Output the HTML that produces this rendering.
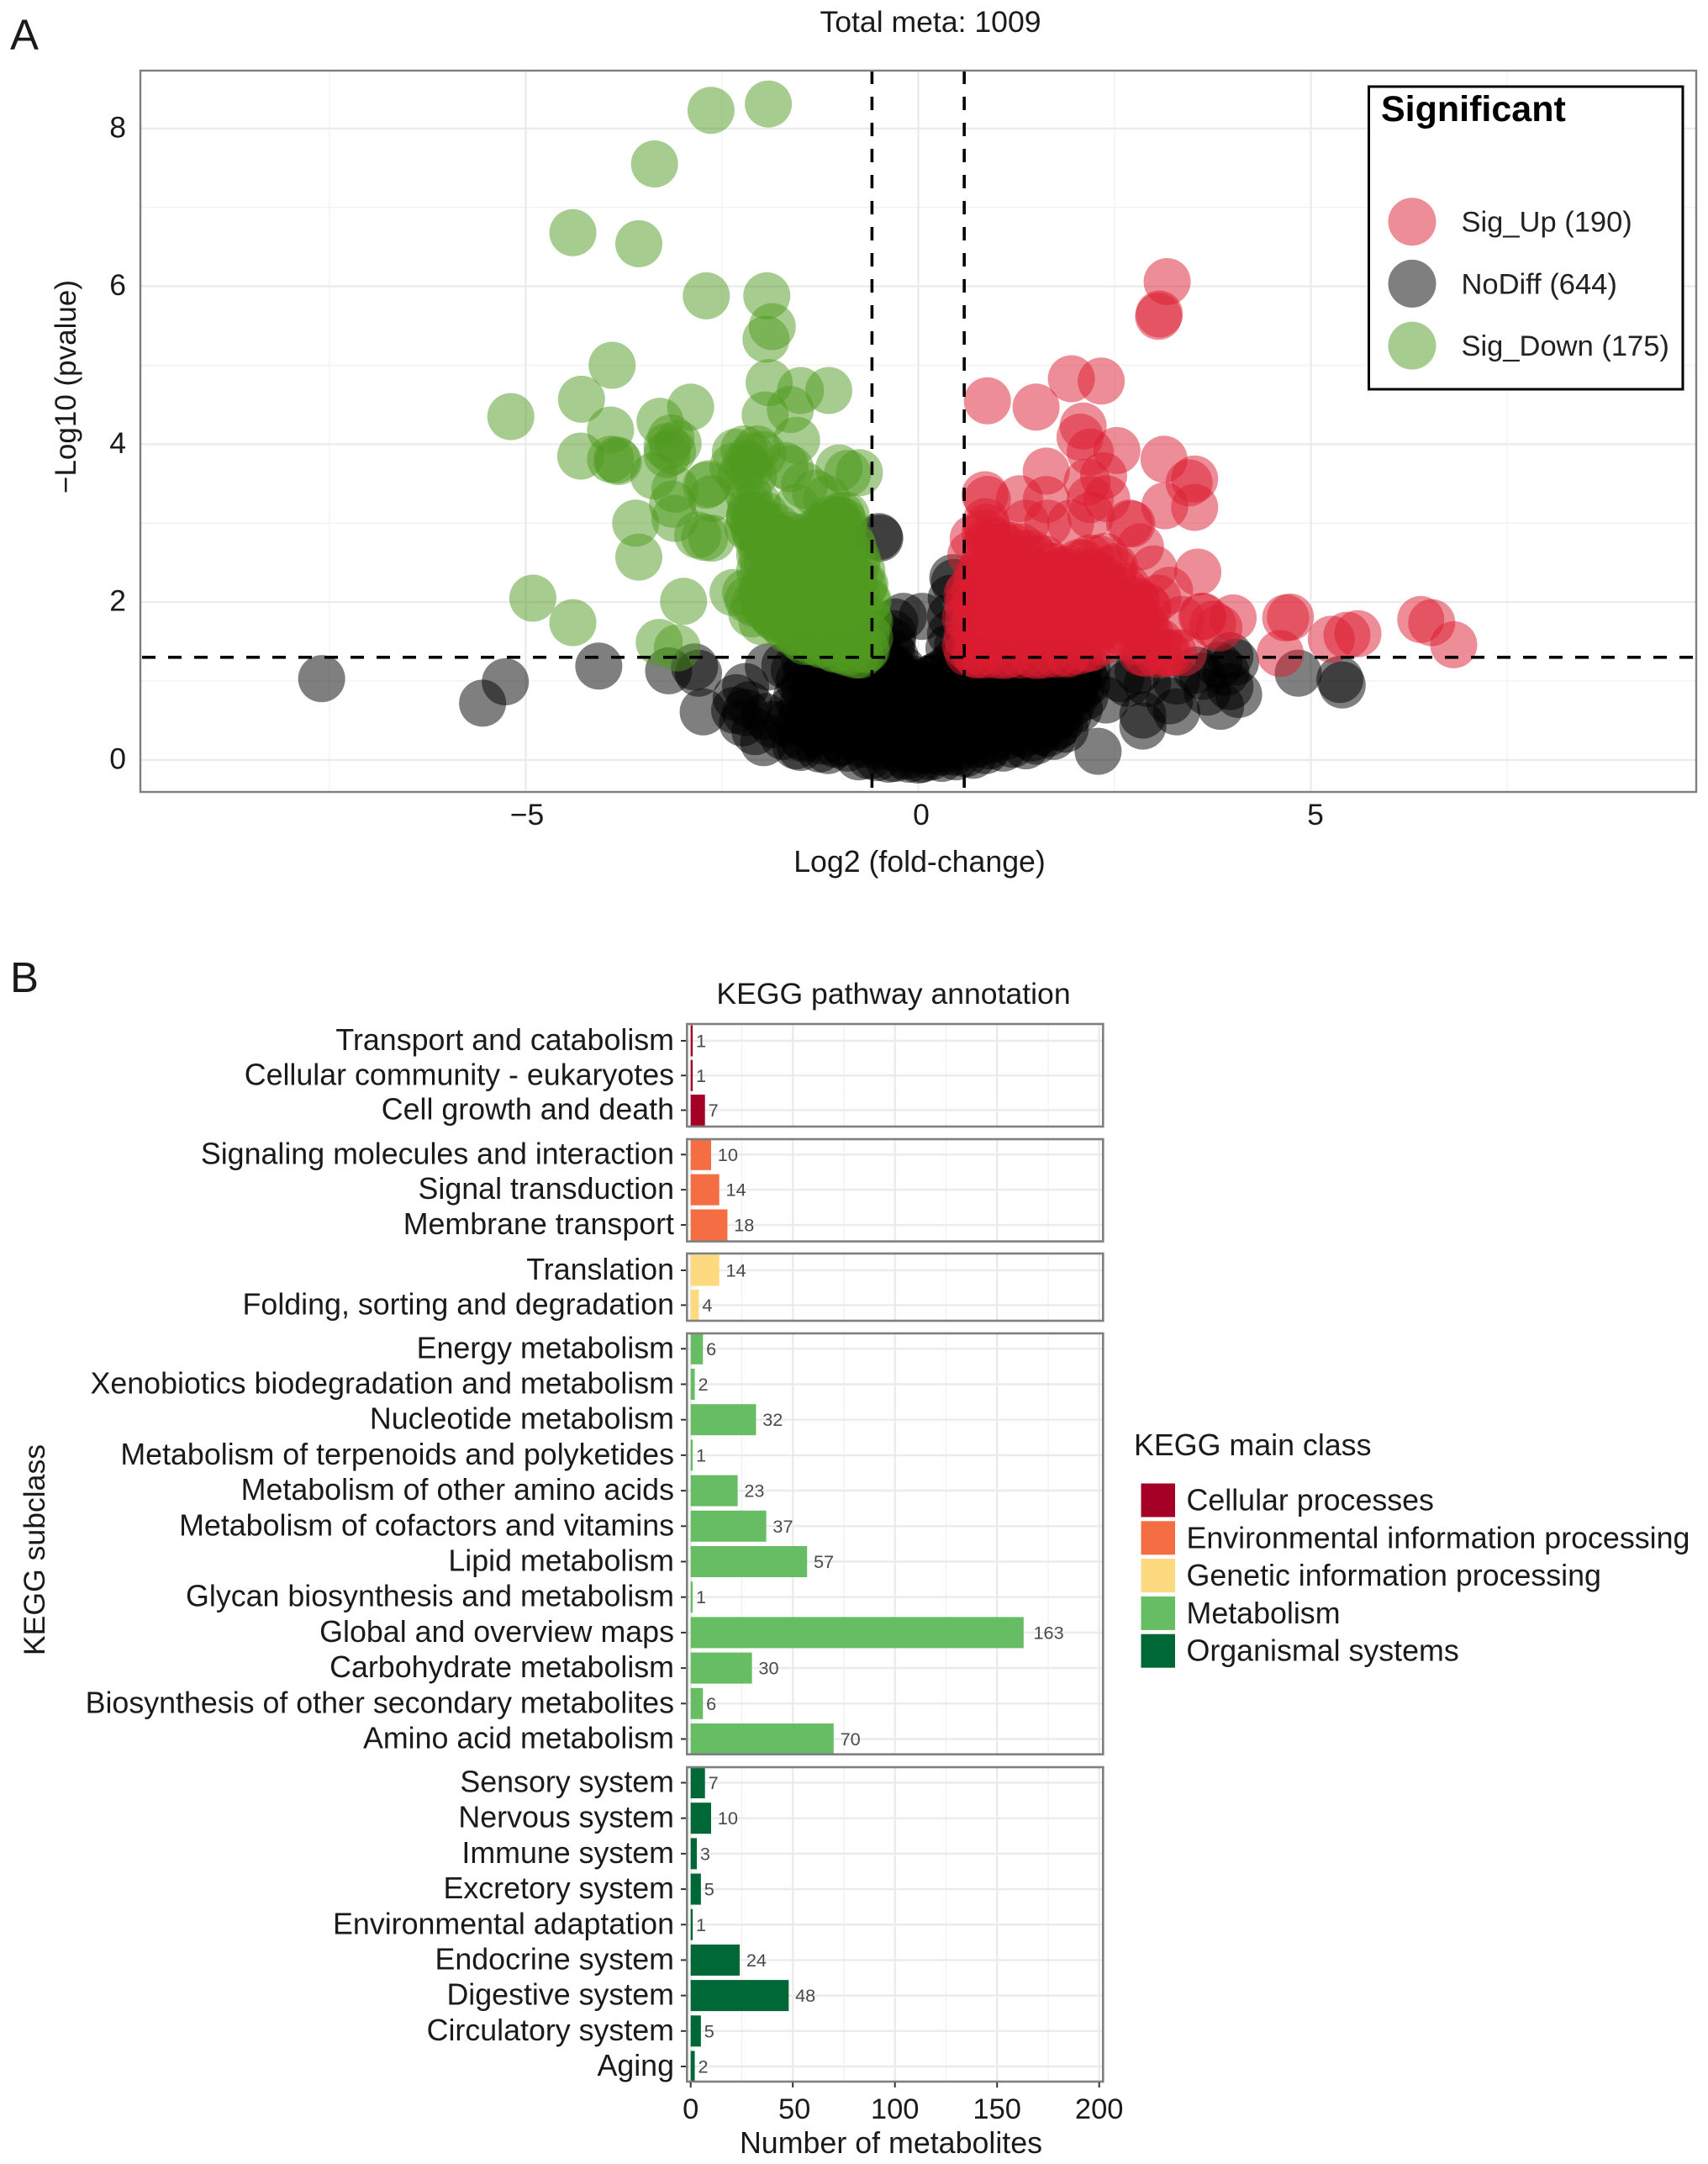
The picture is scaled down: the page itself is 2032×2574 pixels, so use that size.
<!DOCTYPE html>
<html lang="en">
<head>
<meta charset="utf-8">
<title>Volcano plot and KEGG pathway annotation</title>
<style>
html,body{margin:0;padding:0;background:#fff;}
#figure{position:absolute;left:0;top:0;display:block;font-family:"Liberation Sans",Arial,sans-serif;fill:#1a1a1a;}
</style>
</head>
<body>
<svg id="figure" xmlns="http://www.w3.org/2000/svg" width="2032" height="2574" viewBox="0 0 2032 2574">
  <rect x="0" y="0" width="2032" height="2574" fill="#fff"/>
  <text x="12" y="59" font-size="51">A</text>
  <text x="12" y="1180" font-size="51">B</text>
  <text x="1107" y="38" font-size="35.6" text-anchor="middle">Total meta: 1009</text>
  <text x="1094" y="1037" font-size="35.7" text-anchor="middle">Log2 (fold-change)</text>
  <text transform="translate(90,460) rotate(-90)" font-size="35" text-anchor="middle">−Log10 (pvalue)</text>
  <g id="volcano"></g>
  <text x="1063" y="1194" font-size="35.6" text-anchor="middle">KEGG pathway annotation</text>
  <text transform="translate(53,1843.5) rotate(-90)" font-size="35.6" text-anchor="middle">KEGG subclass</text>
  <text x="1060" y="2561" font-size="35.8" text-anchor="middle">Number of metabolites</text>
  <g id="kegg"></g>
  <g id="kegg-legend">
    <text x="1349" y="1731" font-size="35.8">KEGG main class</text>
  </g>
</svg>
<script>
// ---------- Volcano data: [log2 fold-change, -log10 p] ----------
const noDiffPoints = [
[-7.6,1.03],[-5.26,.99],[-5.55,.72],[-4.07,1.19],[-3.18,1.13],[-2.8,1.1],[-2.74,.61],[-2.85,1.18],
[-2.2,.93],[-2.32,.79],[-2.34,.63],[-2.24,.47],[-2.08,.36],[-1.97,.22],[-2.15,.7],[-1.91,1.18],[-1.58,1.14],[-2.2,.6],[-1.95,.55],[-1.85,.45],
[-1.56,.18],[-1.72,.3],[-1.66,.47],[-1.62,.64],[-1.55,.8],[-1.52,1],
[-1.5,.16],[-1.46,.27],[-1.42,.44],[-1.38,.6],[-1.36,.8],[-1.32,.98],[-1.3,1.16],[-1.26,.14],[-1.22,.24],[-1.2,.41],[-1.16,.58],[-1.14,.76],[-1.1,.94],[-1.08,1.13],[-1.05,1.28],
[-1.15,.12],[-.97,.22],[-.94,.38],[-.9,.55],[-.88,.73],[-.84,.92],[-.82,1.1],[-.78,1.26],[-.76,.04],[-.72,.2],[-.7,.36],[-.66,.53],[-.64,.7],[-.6,.88],[-.58,1.05],[-.56,1.22],
[-.52,.03],[-.5,.17],[-.47,.33],[-.44,.5],[-.42,.68],[-.4,.85],[-.38,1.02],[-.36,1.2],[-.34,1.38],[-.33,1.5],[-.32,1.6],[-.3,1.75],[-.38,.01],[-.28,.15],[-.26,.3],[-.23,.46],[-.21,.64],[-.19,.82],[-.17,1],[-.2,1.15],[-.3,1.32],[-.19,1.82],
[-.12,.01],[-.1,.14],[-.08,.28],[-.06,.45],[-.04,.62],[-.02,.8],[0,.98],[.05,.01],[.04,.13],[.06,.3],[.08,.47],[.1,.64],[.12,.82],[.14,1],[.16,.04],[.18,.2],[.2,.37],[.22,.55],[.24,.73],[.22,.92],[.25,1.08],[.05,1.82],
[.3,.02],[.33,.15],[.36,.32],[.38,.5],[.4,.68],[.42,.86],[.44,1.05],[.46,1.25],[.36,1.15],[.39,1.42],[.41,1.6],[.41,1.82],[.46,2.25],[.44,2.31],[.42,2.05],[.5,1.45],
[.48,.04],[.53,.18],[.56,.35],[.58,.53],[.6,.72],[.62,.9],[.65,1.1],[.68,1.26],[.7,.06],[.74,.2],[.76,.38],[.78,.56],[.8,.75],[.83,.94],[.86,1.12],[.88,1.27],
[.86,.12],[.92,.25],[.95,.42],[.98,.6],[1,.78],[1.03,.97],[1.06,1.15],[1.08,.15],[1.12,.3],[1.15,.47],[1.18,.65],[1.2,.84],[1.23,1.02],[1.26,1.2],
[1.37,.18],[1.33,.33],[1.36,.5],[1.38,.68],[1.42,.87],[1.45,1.05],[1.47,1.22],[1.5,.24],[1.54,.36],[1.57,.53],[1.6,.72],[1.62,.9],[1.65,1.08],[1.68,1.24],
[1.72,.3],[1.76,.42],[1.8,.58],[1.82,.76],[1.85,.94],[1.88,1.12],[1.87,.39],[1.91,.57],[1.96,.72],[2,.88],[2.03,1.05],[2.06,1.2],[2.12,.8],[2.15,.98],[2.15,1.15],[2.29,.11],
[2.39,.76],[2.58,1.03],[2.67,.97],[2.8,1.13],[2.86,.43],[2.86,.57],[2.92,.97],[3.2,.75],[3.29,.61],[3.29,1],[3.54,1.14],[3.62,1.06],[3.68,.86],[3.85,.68],[3.83,1.2],[3.92,1.11],[3.97,1.32],[3.97,.93],[4.04,1.24],[4.08,.83],[4.84,1.1],[5.37,1.02],[5.4,.95],
[-.49,2.81],[-.5,2.83],[-.62,1.25],[-.55,1.45],[-.48,1.6],[-1.7,1.2],[-1.45,1.28],
// additional points along the dense core
[-1.48,.3],[-1.5,.5],[-1.47,.7],[-1.45,.9],[-1.42,1.1],[-1.25,.35],[-1.28,.55],[-1.25,.75],[-1.22,1],[-1.05,.2],[-1.02,.45],[-1.04,.65],[-1,.85],[-.98,1.05],[-.95,1.25],
[-.9,.15],[-.8,.28],[-.78,.48],[-.76,.65],[-.72,.85],[-.7,1.05],[-.68,1.2],[-.62,.05],[-.58,.25],[-.55,.45],[-.53,.62],[-.5,.8],[-.48,1],[-.45,1.25],
[-.3,.02],[-.34,.22],[-.32,.42],[-.3,.58],[-.28,.75],[-.27,.95],[-.28,1.12],[-.15,.05],[-.15,.22],[-.13,.38],[-.12,.55],[-.1,.72],[-.08,.9],[-.05,1.02],
[0,.0],[.0,.2],[.02,.38],[.03,.55],[.05,.72],[.06,.9],[.15,.12],[.15,.3],[.16,.46],[.17,.65],[.18,.82],[.19,1.05],
[.3,.1],[.3,.25],[.3,.42],[.31,.6],[.33,.78],[.34,.95],[.45,.1],[.45,.26],[.47,.42],[.48,.6],[.5,.8],[.52,1],[.55,1.2],
[.6,.08],[.65,.25],[.67,.45],[.7,.62],[.72,.82],[.75,1],[.78,1.18],[.9,.18],[.88,.33],[.9,.5],[.92,.68],[.94,.86],[.96,1.05],[1,1.25],
[1.2,.2],[1.22,.38],[1.27,.58],[1.3,.76],[1.33,.95],[1.35,1.13],[1.37,1.28],[1.45,.28],[1.47,.44],[1.5,.62],[1.52,.8],[1.55,.98],[1.57,1.16],[1.6,1.28],
[1.65,.34],[1.7,.5],[1.72,.66],[1.73,.85],[1.76,1.02],[1.78,1.2],[1.8,.45],[1.93,.8],[1.95,1],[1.98,1.18],[2.05,.65],[2.07,.9],[2.1,1.1]
];
const upPoints = [
[3.17,6.06],[3.07,5.65],[3.06,5.62],[1.95,4.83],[2.33,4.8],[.88,4.55],[1.5,4.47],[2.1,4.23],[2.06,4.09],[2.19,3.9],[2.53,3.92],[1.63,3.66],[2.36,3.6],[3.13,3.81],[3.52,3.56],[3.45,3.51],[3.14,3.22],[3.52,3.2],
[.85,3.36],[.88,3.3],[1.63,3.3],[1.29,3.31],[2.4,3.31],[2.19,3.3],[2.15,3.52],[2.69,3],[2.83,2.7],[3.56,2.38],[3,2.42],[3.63,1.82],[4.01,1.8],[3.83,1.67],[3.35,1.78],[4.74,1.81],[4.61,1.35],[4.68,1.8],[5.26,1.53],[5.46,1.58],[5.6,1.6],[6.4,1.78],[6.54,1.74],[6.82,1.46],
[.86,3.02],[.7,2.81],[.67,2.6],[1.37,3],[1.65,3],[1.94,3],[2.2,3.1],[2.72,2.99],[3.61,1.82],[3.75,1.72],[3.2,2.15],[3.05,2.05],
[.63,1.36],[.62,1.56],[.64,1.78],[.63,1.98],[.65,2.15],
[.72,1.34],[.74,1.55],[.71,1.75],[.73,1.95],[.72,2.15],[.75,2.32],
[.85,1.33],[.87,1.52],[.84,1.72],[.86,1.92],[.85,2.12],[.87,2.32],[.84,2.52],[.86,2.7],[.85,2.88],
[1,1.33],[1.02,1.53],[.99,1.73],[1.01,1.93],[1,2.13],[1.03,2.33],[.99,2.55],[1.01,2.78],
[1.15,1.34],[1.17,1.54],[1.14,1.74],[1.16,1.94],[1.15,2.14],[1.17,2.34],[1.14,2.54],[1.16,2.72],
[1.3,1.33],[1.32,1.53],[1.29,1.73],[1.31,1.93],[1.3,2.13],[1.32,2.33],[1.29,2.53],[1.31,2.7],
[1.45,1.34],[1.47,1.54],[1.44,1.74],[1.46,1.94],[1.45,2.14],[1.47,2.34],[1.44,2.62],
[1.6,1.33],[1.62,1.53],[1.59,1.73],[1.61,1.93],[1.6,2.13],[1.62,2.33],[1.6,2.55],
[1.75,1.34],[1.77,1.54],[1.74,1.74],[1.76,1.94],[1.75,2.14],[1.77,2.3],[1.74,2.45],
[1.9,1.36],[1.92,1.56],[1.89,1.76],[1.91,1.96],[1.9,2.16],[1.92,2.42],
[2.05,1.38],[2.07,1.58],[2.04,1.78],[2.06,1.98],[2.05,2.18],[2.07,2.34],[2.04,2.5],
[2.2,1.42],[2.22,1.6],[2.19,1.8],[2.21,2],[2.2,2.2],[2.22,2.38],[2.19,2.56],
[2.35,1.5],[2.37,1.7],[2.34,1.9],[2.36,2.1],[2.35,2.3],[2.38,2.58],
[2.5,1.58],[2.52,1.78],[2.49,1.98],[2.51,2.18],[2.5,2.45],
[2.62,1.6],[2.64,1.8],[2.61,2],[2.63,2.15],
[2.76,1.5],[2.78,1.7],[2.75,1.88],[2.77,2.03],
[2.9,1.35],[2.92,1.52],[2.89,1.7],[2.91,1.95],
[3.05,1.34],[3.07,1.5],[3.18,1.35],[3.25,1.36],[3.38,1.36],
// additional points along the dense edge
[.87,2.95],[.9,2.8],[1.1,2.7],[1.3,2.62],[1.5,2.55],[1.7,2.45],[1.85,2.4],[2.1,2.5],[2.3,2.55],[2.48,2.42],[2.65,2.2],[2.78,2],[2.93,1.92],[2.95,1.6],[3.15,1.36],[2.85,1.36],[2.15,1.41],[1.9,1.34],[1.5,1.32],[1.1,1.32],[.75,1.33],[.6,1.45],[.6,1.8],[.62,2.1],[.8,2.4]
];
const downPoints = [
[-1.91,8.31],[-2.64,8.23],[-3.36,7.55],[-4.4,6.68],[-3.56,6.54],[-2.7,5.88],[-1.93,5.88],[-1.86,5.49],[-1.94,5.33],[-3.9,5],[-4.29,4.57],[-5.19,4.35],[-1.9,4.78],[-1.5,4.68],[-1.14,4.68],[-2.9,4.47],[-3.29,4.29],[-3.92,4.18],[-1.95,4.37],[-1.63,4.44],
[-4.3,3.85],[-3.92,3.81],[-3.82,3.78],[-3.84,3.8],[-3.37,3.6],[-3.06,4.01],[-3.2,3.97],[-3.15,4.08],[-3.13,3.91],[-3.2,3.87],[-1.55,4.05],[-1.7,3.73],[-1.63,3.69],[-2.33,3.9],[-2.22,3.94],[-2.05,3.94],[-1.98,3.87],[-2.19,3.76],[-2.36,3.72],[-2.26,3.6],[-2.12,3.85],[-2.15,3.7],[-2.1,3.6],[-2.67,3.5],
[-3.6,3],[-3.56,2.57],[-3.1,3.43],[-3.13,3.24],[-3.1,3.06],[-2.81,2.85],[-2.63,2.81],[-2.72,2.82],[-2.7,3.48],[-2.63,3.31],[-4.91,2.05],[-4.4,1.74],[-2.99,2.01],[-3.3,1.49],[-3.07,1.42],[-2.36,2.12],[-2.17,2.03],[-2.2,2.12],[-2.12,1.85],
[-1.31,3.38],[-1.45,3.48],[-1.01,3.7],[-.75,3.64],[-.9,3.63],[-1.17,3.31],[-1.55,3.2],
[-2.17,2.95],[-2.15,3.1],[-2.13,3.2],[-2.16,3.35],[-2.02,2.4],[-1.99,2.6],[-2.01,2.8],[-1.98,3],
[-1.85,2.05],[-1.87,2.25],[-1.83,2.45],[-1.86,2.65],[-1.84,2.85],
[-1.7,1.85],[-1.72,2.05],[-1.68,2.25],[-1.71,2.45],[-1.69,2.65],[-1.72,2.8],
[-1.55,1.7],[-1.57,1.9],[-1.53,2.1],[-1.56,2.3],[-1.54,2.5],[-1.57,2.7],
[-1.4,1.6],[-1.42,1.8],[-1.38,2],[-1.41,2.2],[-1.39,2.4],[-1.42,2.6],[-1.4,2.75],
[-1.25,1.48],[-1.27,1.65],[-1.23,1.85],[-1.26,2.05],[-1.24,2.25],[-1.27,2.45],[-1.23,2.65],[-1.26,2.78],
[-1.1,1.42],[-1.12,1.6],[-1.08,1.8],[-1.11,2],[-1.09,2.2],[-1.12,2.4],[-1.08,2.6],[-1.11,2.8],[-1.09,2.95],
[-.95,1.38],[-.97,1.55],[-.93,1.75],[-.96,1.95],[-.94,2.15],[-.97,2.35],[-.93,2.55],[-.96,2.75],[-1.02,3.05],
[-.8,1.33],[-.82,1.5],[-.78,1.7],[-.81,1.9],[-.79,2.1],[-.82,2.3],[-.78,2.5],[-.83,2.7],
[-.68,1.4],[-.66,1.6],[-.64,1.8],[-.65,2],[-.7,2.2],
// additional points along the dense edge
[-2.15,3.08],[-2.1,2.95],[-2.05,2.8],[-2.02,2.6],[-1.97,2.4],[-1.93,2.17],[-1.86,2],[-1.78,1.9],[-1.65,1.75],[-1.5,1.6],[-1.35,1.5],[-1.24,1.46],[-1.05,1.4],[-.9,1.36],[-.74,1.33],[-.66,1.4],[-.62,1.55],[-.62,1.75],[-.64,2.02],[-.68,2.22],[-.72,2.4],[-.78,2.56],[-.85,2.75],[-.95,2.95],[-1.03,3.04],[-1.1,3],[-1.2,2.88],[-1.35,2.82],[-1.5,2.82],[-1.65,2.85],[-1.8,2.95],[-1.95,3.1],[-2.05,3.25],
[-2.06,3.1],[-2.08,2.9],[-2.1,3.05],[-1.92,2.5],[-1.9,2.3],[-1.78,2.15],[-1.8,2.35],[-1.78,2.6],[-1.62,1.95],[-1.62,2.2],[-1.48,1.75],[-1.33,1.7],[-1.18,1.55],[-1.03,1.5],
// lower-left shoulder and upper-right lump of the dense core
[-1.99,2.1],[-2,2.14],[-1.96,1.98],[-1.94,1.92],[-1.85,1.82],[-1.88,1.86],[-1.8,1.78],[-1.72,1.72],[-1.68,1.66],[-1.58,1.62],[-1.52,1.56],[-1.44,1.5],[-1.38,1.78],[-1.99,1.75],[-2.08,1.98],
[-1.05,2.98],[-.98,3.1],[-.95,3.02],[-.92,3.1],[-1.12,3.05],[-1.2,2.98],[-1.3,2.9]
];
const volcanoXTicks = [-5, 0, 5];
const volcanoXMinor = [-7.5, -2.5, 2.5, 7.5];
const volcanoYTicks = [0, 2, 4, 6, 8];
const volcanoYMinor = [1, 3, 5, 7];
const pThreshold = 1.301;
const fcThresholds = [-0.59, 0.585];
const legendLabels = ['Sig_Up (190)', 'NoDiff (644)', 'Sig_Down (175)'];
const groupColors = ['#dc1c30', '#000000', '#4f9a1f'];

// ---------- KEGG data ----------
const cellularCategories = ['Transport and catabolism','Cellular community - eukaryotes','Cell growth and death'];
const cellularValues = [1,1,7];
const environmentalCategories = ['Signaling molecules and interaction','Signal transduction','Membrane transport'];
const environmentalValues = [10,14,18];
const geneticCategories = ['Translation','Folding, sorting and degradation'];
const geneticValues = [14,4];
const metabolismCategories = ['Energy metabolism','Xenobiotics biodegradation and metabolism','Nucleotide metabolism','Metabolism of terpenoids and polyketides','Metabolism of other amino acids','Metabolism of cofactors and vitamins','Lipid metabolism','Glycan biosynthesis and metabolism','Global and overview maps','Carbohydrate metabolism','Biosynthesis of other secondary metabolites','Amino acid metabolism'];
const metabolismValues = [6,2,32,1,23,37,57,1,163,30,6,70];
const organismalCategories = ['Sensory system','Nervous system','Immune system','Excretory system','Environmental adaptation','Endocrine system','Digestive system','Circulatory system','Aging'];
const organismalValues = [7,10,3,5,1,24,48,5,2];
const mainClasses = ['Cellular processes','Environmental information processing','Genetic information processing','Metabolism','Organismal systems'];
const mainClassColors = ['#a50026','#f46d43','#fdd97f','#66bd63','#006837'];
const keggXTicks = [0,50,100,150,200];
const keggXMinor = [25,75,125,175];

// ---------- helpers ----------
const SVGNS = 'http://www.w3.org/2000/svg';
function make(parent, tag, attrs, text) {
  const node = document.createElementNS(SVGNS, tag);
  for (const k in attrs) node.setAttribute(k, attrs[k]);
  if (text !== undefined) node.textContent = text;
  parent.appendChild(node);
  return node;
}
function tagged(node, name) {
  
  
  return node;
}

// ---------- Volcano ----------
const vol = document.getElementById('volcano');
const volBox = {left:167, right:2018, top:84, bottom:942};
const vx = v => 1092.5 + 93.4 * v;
const vy = v => 904 - 93.9 * v;

volcanoYMinor.forEach(t => {
  tagged(make(vol,'line',{x1:volBox.left,x2:volBox.right,y1:vy(t),y2:vy(t),stroke:'#f2f2f2','stroke-width':1.4}),'y-minor-gridline');
});
volcanoXMinor.forEach(t => {
  tagged(make(vol,'line',{y1:volBox.top,y2:volBox.bottom,x1:vx(t),x2:vx(t),stroke:'#f2f2f2','stroke-width':1.4}),'x-minor-gridline');
});
volcanoYTicks.forEach(t => {
  tagged(make(vol,'line',{x1:volBox.left,x2:volBox.right,y1:vy(t),y2:vy(t),stroke:'#ebebeb','stroke-width':2.4}),'y-major-gridline');
  tagged(make(vol,'text',{x:150,y:vy(t)+10.5,'font-size':35.5,'text-anchor':'end'},String(t)),'y-tick-label');
});
volcanoXTicks.forEach(t => {
  tagged(make(vol,'line',{y1:volBox.top,y2:volBox.bottom,x1:vx(t),x2:vx(t),stroke:'#ebebeb','stroke-width':2.4}),'x-major-gridline');
  tagged(make(vol,'text',{x:1096+93.8*t,y:981,'font-size':35.5,'text-anchor':'middle'},String(t).replace('-','−')),'x-tick-label');
});

function drawPoints(points, color, name) {
  points.forEach(p => {
    const c = make(vol,'circle',{cx:vx(p[0]),cy:vy(p[1]),r:28,fill:color,'fill-opacity':0.5});
    
    
  });
}
drawPoints(noDiffPoints, groupColors[1], 'nodiff-point');
drawPoints(upPoints, groupColors[0], 'sig-up-point');
drawPoints(downPoints, groupColors[2], 'sig-down-point');

tagged(make(vol,'line',{x1:volBox.left+2,x2:volBox.right,y1:vy(pThreshold),y2:vy(pThreshold),stroke:'#000','stroke-width':3.6,'stroke-dasharray':'16 15'}),'p-threshold-line');
fcThresholds.forEach(t => {
  tagged(make(vol,'line',{x1:vx(t),x2:vx(t),y1:volBox.top,y2:volBox.bottom,stroke:'#000','stroke-width':3.6,'stroke-dasharray':'16 15'}),'fold-change-threshold-line');
});
tagged(make(vol,'rect',{x:volBox.left,y:volBox.top,width:volBox.right-volBox.left,height:volBox.bottom-volBox.top,fill:'none',stroke:'#7f7f7f','stroke-width':2.4}),'volcano-panel-border');

const volLegend = tagged(make(vol,'g',{}),'significance-legend');
tagged(make(volLegend,'rect',{x:1628.5,y:103,width:373.5,height:360,fill:'#fff',stroke:'#000','stroke-width':3}),'legend-box');
tagged(make(volLegend,'text',{x:1643,y:144,'font-size':43,'font-weight':'bold',fill:'#000'},'Significant'),'legend-title');
legendLabels.forEach((label,i) => {
  const cy = 263.7 + i * 73.7;
  tagged(make(volLegend,'circle',{cx:1680,cy:cy,r:28.5,fill:groupColors[i],'fill-opacity':0.5}),'legend-key');
  tagged(make(volLegend,'text',{x:1738.5,y:cy+12,'font-size':34.5,fill:'#222'},label),'legend-entry');
});

// ---------- KEGG bars ----------
const kegg = document.getElementById('kegg');
const kx = v => 821.7 + 2.43 * v;
const keggLeft = 817.3, keggRight = 1312.3, barHeight = 37;
const facets = [
  {cats:cellularCategories, vals:cellularValues, color:mainClassColors[0], top:1218, bottom:1340, first:1238, last:1320.5},
  {cats:environmentalCategories, vals:environmentalValues, color:mainClassColors[1], top:1355, bottom:1476.6, first:1373.3, last:1457},
  {cats:geneticCategories, vals:geneticValues, color:mainClassColors[2], top:1491, bottom:1571, first:1511, last:1552.4},
  {cats:metabolismCategories, vals:metabolismValues, color:mainClassColors[3], top:1586, bottom:2086.7, first:1604.3, last:2068.5},
  {cats:organismalCategories, vals:organismalValues, color:mainClassColors[4], top:2102, bottom:2476, first:2120.5, last:2458}
];

facets.forEach(f => {
  const step = (f.last - f.first) / (f.cats.length - 1);
  const cy = i => f.first + i * step;
  keggXMinor.forEach(t => {
    tagged(make(kegg,'line',{x1:kx(t),x2:kx(t),y1:f.top,y2:f.bottom,stroke:'#f2f2f2','stroke-width':1.4}),'x-minor-gridline');
  });
  keggXTicks.forEach(t => {
    tagged(make(kegg,'line',{x1:kx(t),x2:kx(t),y1:f.top,y2:f.bottom,stroke:'#ebebeb','stroke-width':2.4}),'x-major-gridline');
  });
  f.cats.forEach((cat,i) => {
    const y = cy(i), val = f.vals[i];
    tagged(make(kegg,'line',{x1:keggLeft,x2:keggRight,y1:y,y2:y,stroke:'#ebebeb','stroke-width':2.4}),'y-gridline');
    tagged(make(kegg,'line',{x1:810,x2:816,y1:y,y2:y,stroke:'#333','stroke-width':2}),'y-tick');
    tagged(make(kegg,'text',{x:802,y:y+11,'font-size':35.8,'text-anchor':'end',fill:'#1a1a1a'},cat),'subclass-label');
    const bar = make(kegg,'rect',{x:kx(0),y:y-barHeight/2,width:kx(val)-kx(0),height:barHeight,fill:f.color});
    
    
    const txt = String(val);
    tagged(make(kegg,'text',{x:kx(val)+txt.length*3.9,y:y+7.5,'font-size':21.7,fill:'#4a4a4a'},txt),'bar-value-label');
  });
  tagged(make(kegg,'rect',{x:keggLeft,y:f.top,width:keggRight-keggLeft,height:f.bottom-f.top,fill:'none',stroke:'#7f7f7f','stroke-width':2.6}),'facet-panel-border');
});
keggXTicks.forEach(t => {
  tagged(make(kegg,'line',{x1:kx(t),x2:kx(t),y1:2477,y2:2483,stroke:'#333','stroke-width':2}),'x-tick');
  tagged(make(kegg,'text',{x:kx(t)+(t===50?2:0),y:2520,'font-size':34.5,'text-anchor':'middle',fill:'#1a1a1a'},String(t)),'x-tick-label');
});

// ---------- KEGG legend ----------
const keggLegend = document.getElementById('kegg-legend');
mainClasses.forEach((label,i) => {
  const top = 1764.5 + i * 44.8;
  tagged(make(keggLegend,'rect',{x:1357.5,y:top,width:40.5,height:40,fill:mainClassColors[i]}),'legend-key');
  tagged(make(keggLegend,'text',{x:1411.5,y:top+32,'font-size':35.8,fill:'#1a1a1a'},label),'legend-entry');
});
</script>
</body>
</html>
